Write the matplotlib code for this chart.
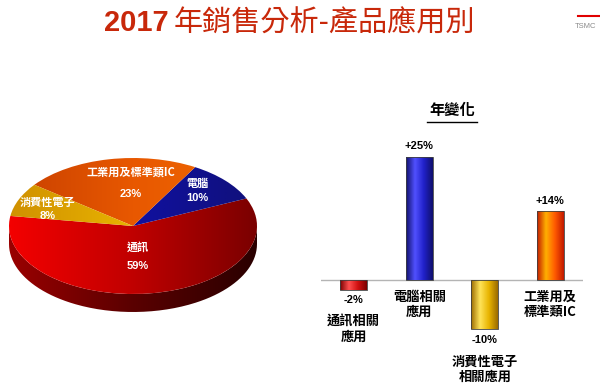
import numpy as np
import matplotlib.pyplot as plt
from matplotlib.colors import LinearSegmentedColormap
from matplotlib.path import Path
from matplotlib.patches import PathPatch
from matplotlib.lines import Line2D

plt.rcParams['font.family'] = ['Noto Sans CJK TC', 'DejaVu Sans']
LAT = 'Liberation Sans'

title_year = '2017'
title_rest = '年銷售分析-產品應用別'

# 2017 revenue share by application
pie_labels = ['通訊', '電腦', '工業用及標準類IC', '消費性電子']
pie_values = [59, 10, 23, 8]

# year over year change
bar_title = '年變化'
bar_labels = ['通訊相關\n應用', '電腦相關\n應用', '消費性電子\n相關應用', '工業用及\n標準類IC']
bar_values = [-2, 25, -10, 14]

W, H = 600, 387
fig = plt.figure(figsize=(W / 100, H / 100), dpi=100)
fig.patch.set_facecolor('white')


def px_axes(x0, y0, x1, y1):
    # box in image pixels, origin top-left
    return fig.add_axes([x0 / W, 1 - y1 / H, (x1 - x0) / W, (y1 - y0) / H])


def grad_fill(ax, patch, colors, extent, z):
    cmap = LinearSegmentedColormap.from_list('g', colors)
    img = np.linspace(0, 1, 256).reshape(1, -1)
    im = ax.imshow(img, cmap=cmap, extent=extent, aspect='auto',
                   interpolation='bilinear', zorder=z)
    im.set_clip_path(patch)


red = '#c8280a'
fig.text(169 / W, 1 - 23 / H, title_year, ha='right', va='center',
         fontsize=21, fontweight='bold', color=red, family=LAT)
fig.text(174 / W, 1 - 23.5 / H, title_rest, ha='left', va='center',
         fontsize=21, fontweight='medium', color=red)
fig.text(575 / W, 1 - 27 / H, 'TSMC', fontsize=5.5, color='#8a8a8a',
         va='center', family=LAT)
fig.add_artist(Line2D([578 / W, 1], [1 - 16 / H] * 2, color='#e00000', lw=1.5))

# ---- pseudo 3D pie
axp = px_axes(0, 130, 270, 330)
cx, cy, a, b, depth = 133, 226, 124, 68, 18
d = depth / b

t = np.linspace(np.pi, 2 * np.pi, 200)
bx = np.concatenate([np.cos(t), np.cos(t[::-1])])
by = np.concatenate([np.sin(t) - d, np.sin(t[::-1])])
side = PathPatch(Path(np.column_stack([bx, by])), facecolor='none', edgecolor='none')
axp.add_patch(side)
grad_fill(axp, side, ['#9a0000', '#5a0000', '#2a0000'], (-1, 1, -1 - d, 0), 1)

wedges, _ = axp.pie(pie_values, startangle=171.5, counterclock=True, radius=1,
                    wedgeprops=dict(linewidth=0))
pie_grads = [['#f40000', '#c00000', '#7a0000'],
             ['#0000e0', '#1010a0', '#10107a'],
             ['#c84000', '#e85800', '#f06a00'],
             ['#d09000', '#e8b400', '#f5d000']]
for w, g in zip(wedges, pie_grads):
    w.set_facecolor('none')
    grad_fill(axp, w, g, (-1, 1, -1, 1), 2)

label_pos = [(0.04, -0.31, -0.59), (0.52, 0.63, 0.41),
             (-0.02, 0.79, 0.47), (-0.69, 0.34, 0.15)]
for lab, v, (lx, ly, py) in zip(pie_labels, pie_values, label_pos):
    axp.text(lx, ly, lab, ha='center', va='center', color='white',
             fontsize=8, fontweight='bold', zorder=5)
    axp.text(lx, py, f'{v}%', ha='center', va='center', color='white',
             fontsize=8, fontweight='bold', zorder=5, family=LAT)

axp.set_aspect('auto')
axp.set_xlim(-cx / a, (270 - cx) / a)
axp.set_ylim(-(330 - cy) / b, (cy - 130) / b)
axp.axis('off')

# ---- yoy bars
axb = px_axes(321, 130, 583, 370)
x = np.arange(len(bar_values))
bar_grads = [['#7a0000', '#ff5050', '#d01010', '#7a0000'],
             ['#10106a', '#5050ff', '#2020c8', '#10106a'],
             ['#9a6a00', '#ffe45a', '#e8b400', '#9a6a00'],
             ['#c01800', '#ffb000', '#ff5a00', '#c01800']]
bars = axb.bar(x, bar_values, width=0.41, color='none', edgecolor='#404040',
               linewidth=0.6, zorder=3)
for r, g in zip(bars, bar_grads):
    x0, y0 = r.get_x(), r.get_y()
    grad_fill(axb, r, g, (x0, x0 + r.get_width(), y0, y0 + r.get_height()), 2)

axb.axhline(0, color='#b4b4b4', lw=1, zorder=1)

for xi, v, lab in zip(x, bar_values, bar_labels):
    s = f'+{v}%' if v > 0 else f'{v}%'
    axb.annotate(s, (xi, v), xytext=(0, 7.5 if v > 0 else -7.5),
                 textcoords='offset points', ha='center', va='center',
                 fontsize=8, fontweight='bold', family=LAT)
    if v > 0:
        axb.annotate(lab, (xi, 0), xytext=(0, -7), textcoords='offset points',
                     ha='center', va='top', fontsize=9.5, fontweight='bold',
                     linespacing=1.1)
    else:
        axb.annotate(lab, (xi, v), xytext=(0, -18), textcoords='offset points',
                     ha='center', va='top', fontsize=9.5, fontweight='bold',
                     linespacing=1.1)

axb.set_aspect('auto')
axb.set_xlim(-0.5, 3.5)
axb.set_ylim(-(370 - 280) / 4.93, (280 - 130) / 4.93)
axb.axis('off')

fig.text(452 / W, 1 - 110 / H, bar_title, ha='center', va='center',
         fontsize=11, fontweight='bold')
fig.add_artist(Line2D([427 / W, 477 / W], [1 - 122 / H] * 2, color='black', lw=1))

fig.savefig('out.png', dpi=100)
